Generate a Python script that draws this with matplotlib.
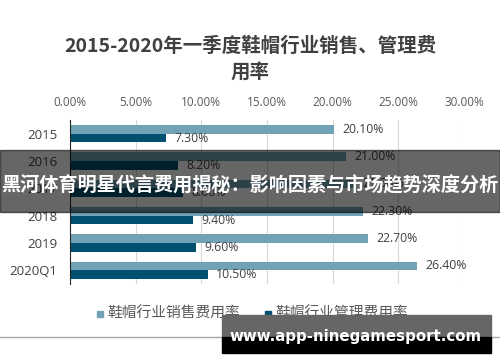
import matplotlib
matplotlib.use('Agg')
import matplotlib.pyplot as plt
from matplotlib.patches import Rectangle
from numpy import arange

plt.rcParams['font.family'] = ['Open Sans', 'Noto Sans CJK SC', 'DejaVu Sans']

categories = ['2015', '2016', '2017', '2018', '2019', '2020Q1']
sales_rate = [20.1, 21.0, 21.6, 22.3, 22.7, 26.4]
manage_rate = [7.3, 8.2, 8.6, 9.4, 9.6, 10.5]
x_ticks = [0, 5, 10, 15, 20, 25, 30]
series_names = ['鞋帽行业销售费用率', '鞋帽行业管理费用率']
title = '2015-2020年一季度鞋帽行业销售、管理费\n用率'
banner = '黑河体育明星代言费用揭秘：影响因素与市场趋势深度分析'
watermark = 'www.app-ninegamesport.com'

light = '#71a2b6'
dark = '#00506f'
text_gray = '#595959'

W, H = 500, 362
fig = plt.figure(figsize=(5, 3.62), dpi=100)
ax = fig.add_axes([70 / W, 1 - 284 / H, 394 / W, 164 / H])

y = arange(len(categories))
h = 0.32
ax.barh(y - h / 2, sales_rate, height=h, color=light, zorder=3)
ax.barh(y + h / 2, manage_rate, height=h, color=dark, zorder=3)

for i in range(len(categories)):
    ax.annotate(f'{sales_rate[i]:.2f}%', (sales_rate[i], y[i] - h / 2),
                xytext=(6, 0), textcoords='offset points', va='center',
                ha='left', fontsize=8.8, color='#404040')
    ax.annotate(f'{manage_rate[i]:.2f}%', (manage_rate[i], y[i] + h / 2),
                xytext=(6, 0), textcoords='offset points', va='center',
                ha='left', fontsize=8.8, color='#404040')

ax.set_xlim(0, 30)
ax.set_ylim(len(categories) - 0.5, -0.5)
ax.set_xticks(x_ticks)
ax.set_xticklabels([f'{v:.2f}%' for v in x_ticks])
ax.set_yticks(y)
ax.set_yticklabels(categories)
ax.xaxis.tick_top()
ax.tick_params(axis='x', length=0, pad=8, labelsize=8.5, labelcolor=text_gray)
ax.tick_params(axis='y', length=0, pad=9, labelsize=9.5, labelcolor='#404040')
ax.grid(axis='x', color='#d9d9d9', linewidth=0.8, zorder=0)
for side in ['top', 'right', 'bottom']:
    ax.spines[side].set_visible(False)
ax.spines['left'].set_color('#262626')
ax.spines['left'].set_zorder(4)

fig.text(0.5, 1 - 60 / H, title, ha='center', va='center', fontsize=14,
         fontweight='bold', color='#404040', linespacing=1.5,
         family=['Noto Sans CJK SC', 'DejaVu Sans'])

# legend
fig.patches.append(Rectangle((97 / W, 1 - 317 / H), 6 / W, 6 / H,
                             transform=fig.transFigure, color=light))
fig.text(107 / W, 1 - 314 / H, series_names[0], ha='left', va='center',
         fontsize=10.6, color=text_gray)
fig.patches.append(Rectangle((265 / W, 1 - 317 / H), 6 / W, 6 / H,
                             transform=fig.transFigure, color=dark))
fig.text(275 / W, 1 - 314 / H, series_names[1], ha='left', va='center',
         fontsize=10.6, color=text_gray)

# bottom border line
fig.add_artist(plt.Line2D([0, 1], [1 - 337 / H, 1 - 337 / H],
                          transform=fig.transFigure, color='#a6a6a6',
                          linewidth=1))

# overlay banner
fig.patches.append(Rectangle((0, 1 - 212 / H), 1, 62 / H,
                             transform=fig.transFigure, color='black',
                             alpha=0.6, zorder=10))
fig.text(0.5, 1 - 186 / H, banner, ha='center', va='center', fontsize=13.8,
         fontweight='bold', color='white', zorder=11,
         family=['Noto Sans CJK SC', 'DejaVu Sans'])

# watermark box
fig.patches.append(Rectangle((222 / W, 1 - 337 / H), 269 / W, 22 / H,
                             transform=fig.transFigure, color='#666666',
                             zorder=10))
fig.patches.append(Rectangle((222 / W, 1 - 353 / H), 269 / W, 16 / H,
                             transform=fig.transFigure, color='black',
                             zorder=10))
fig.text(356 / W, 1 - 337 / H, watermark, ha='center', va='center',
         fontsize=10.8, fontweight='bold', color='white', zorder=11,
         family='DejaVu Sans')

fig.savefig('out.png', dpi=100)
